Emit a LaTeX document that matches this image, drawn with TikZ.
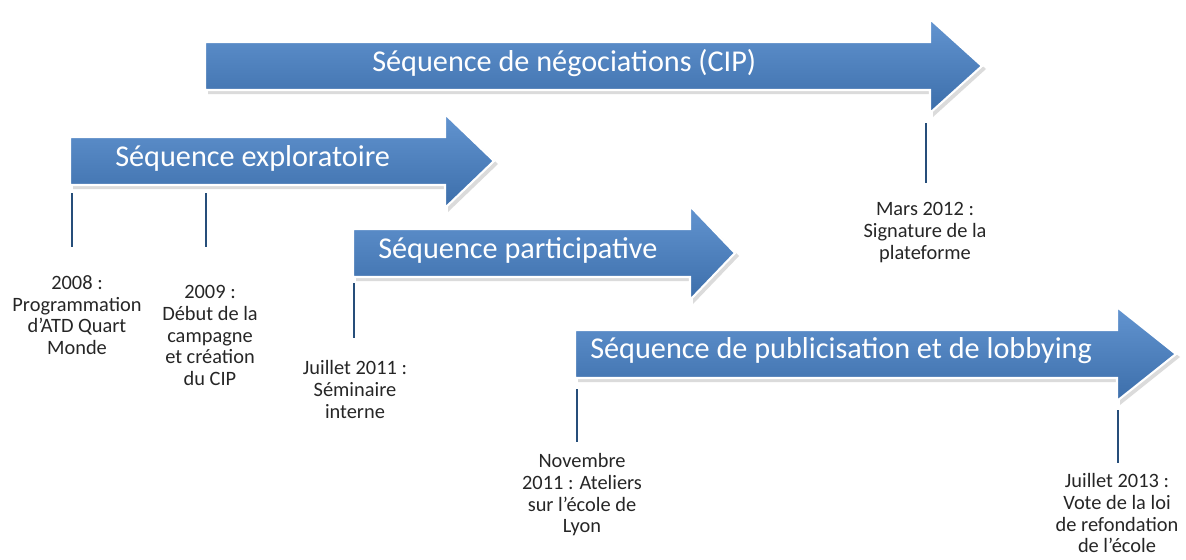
\documentclass[tikz,border=0pt]{standalone}
\usepackage{fontspec}
\setmainfont{Carlito}
\usetikzlibrary{calc}
\definecolor{seqtop}{RGB}{98,148,208}
\definecolor{seqbottom}{RGB}{60,110,170}
\definecolor{tickblue}{RGB}{38,78,122}
% left end, head base, tip, centre line
\def\seqarrow(#1:#2:#3:#4){\fill[black!14] ({#1+3},{#4-21}) -- ({#2+3},{#4-21}) -- ({#2+3},{#4-44}) -- ({#3+4},{#4+3}) -- ({#2+3},{#4+51}) -- ({#2+3},{#4+28}) -- ({#1+3},{#4+28}) -- cycle;
\shadedraw[top color=seqtop, bottom color=seqbottom, draw=white, line width=1.5pt] (#1,{#4-24}) -- (#2,{#4-24}) -- (#2,{#4-47}) -- (#3,#4) -- (#2,{#4+47}) -- (#2,{#4+24}) -- (#1,{#4+24}) -- cycle;}
\tikzset{
  seqtext/.style={anchor=west, text=white, inner sep=0pt, font=\fontsize{21.5}{25}\selectfont},
  datelabel/.style={anchor=north, align=center, inner sep=0pt, text=black!85, font=\fontsize{14.5}{15.5}\selectfont},
  datetick/.style={draw=tickblue, line width=1.8pt}
}

\begin{document}
\begin{tikzpicture}[x=0.025cm, y=-0.025cm]
			%%%%% START %%%%%
			\useasboundingbox (0,0) rectangle (1186,560);
			
			\seqarrow(205:930:982:66)
			\seqarrow(70:445:494:161)
			\seqarrow(353:690:735:253)
			\seqarrow(575:1117:1176:354)
			
			\node[seqtext] (negociations) at (372,63) {Séquence de négociations (CIP)};
			\node[seqtext] (exploratoire) at (115,158) {Séquence exploratoire};
			\node[seqtext] (participative) at (378,250) {Séquence participative};
			\node[seqtext] (publicisation) at (590,351) {Séquence de publicisation et de lobbying};
			
			\node[datelabel] (d2008) at (77,275) {2008 :\\Programmation\\d’ATD Quart\\Monde};
			\node[datelabel] (d2009) at (210,285) {2009 :\\Début de la\\campagne\\et création\\du CIP};
			\node[datelabel] (d2011a) at (355,360) {Juillet 2011 :\\Séminaire\\interne};
			\node[datelabel] (d2012) at (925,202) {Mars 2012 :\\Signature de la\\plateforme};
			\node[datelabel] (d2011b) at (582,453) {Novembre\\2011 : Ateliers\\sur l’école de\\Lyon};
			\node[datelabel] (d2013) at (1117,473) {Juillet 2013 :\\Vote de la loi\\de refondation\\de l’école};
			
			\coordinate (t2008) at (72,193);
			\coordinate (t2009) at (206,193);
			\coordinate (t2011a) at (354,283);
			\coordinate (t2012) at (926,123);
			\coordinate (t2011b) at (577,389);
			\coordinate (t2013) at (1118,410);
			
			\draw[datetick] (t2008) -- ($(t2008 |- d2008.north)+(0,-28)$);
			\draw[datetick] (t2009) -- ($(t2009 |- d2009.north)+(0,-38)$);
			\draw[datetick] (t2011a) -- ($(t2011a |- d2011a.north)+(0,-22)$);
			\draw[datetick] (t2012) -- ($(t2012 |- d2012.north)+(0,-19)$);
			\draw[datetick] (t2011b) -- ($(t2011b |- d2011b.north)+(0,-11)$);
			\draw[datetick] (t2013) -- ($(t2013 |- d2013.north)+(0,-10)$);
			
			%%%%% END %%%%%
		\end{tikzpicture}
\end{document}
